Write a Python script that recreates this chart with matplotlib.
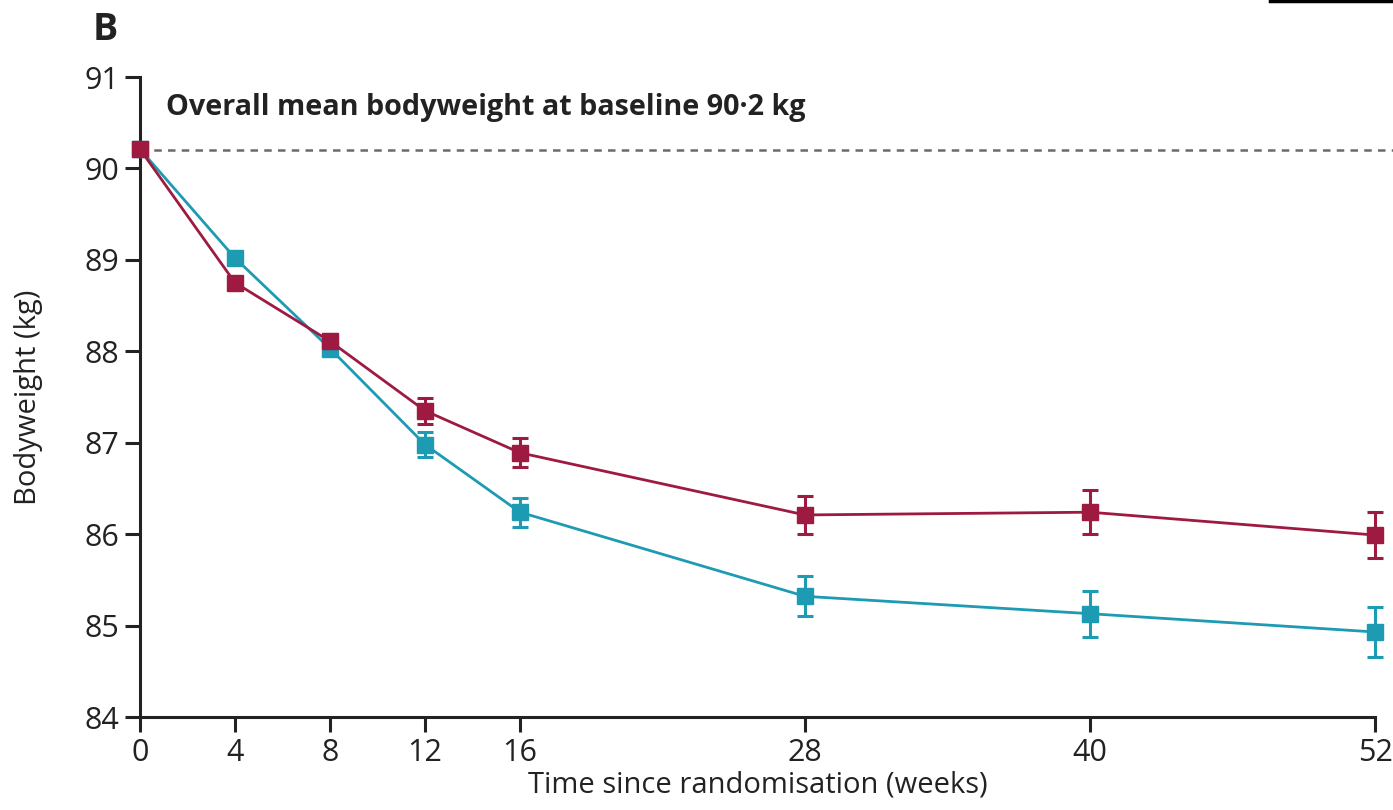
import matplotlib
matplotlib.use("Agg")
import matplotlib.pyplot as plt
from matplotlib.lines import Line2D

weeks = [0, 4, 8, 12, 16, 28, 40, 52]
red_mean = [90.21, 88.75, 88.11, 87.35, 86.89, 86.21, 86.24, 85.99]
red_err = [0.0, 0.0, 0.08, 0.14, 0.16, 0.21, 0.24, 0.25]
teal_mean = [90.21, 89.02, 88.03, 86.98, 86.24, 85.32, 85.13, 84.93]
teal_err = [0.0, 0.0, 0.0, 0.14, 0.16, 0.22, 0.25, 0.27]
baseline = 90.2
y_ticks = [84, 85, 86, 87, 88, 89, 90, 91]

RED = "#9E1A40"
TEAL = "#1C9BB3"
TICKFONT = ["Liberation Sans Narrow", "Open Sans", "DejaVu Sans"]

fig = plt.figure(figsize=(13.93, 8.10), dpi=100)
ax = fig.add_axes([140/1393, 1-717/810, (1375-140)/1393, (717-77)/810])

ax.plot([0, 53.2], [baseline, baseline], linestyle=(0, (3, 2.5)), color="#6b6b6b",
        lw=1.8, clip_on=False, zorder=1)

for mean, err, col in [(teal_mean, teal_err, TEAL), (red_mean, red_err, RED)]:
    ax.errorbar(weeks, mean, yerr=err, color=col, lw=2.0, marker="s", ms=11.5,
                elinewidth=2.2, capsize=6, capthick=2.2, clip_on=False, zorder=3)

ax.set_xlim(0, 52)
ax.set_ylim(84, 91)
ax.set_xticks(weeks)
ax.set_yticks(y_ticks)
for s in ["top", "right"]:
    ax.spines[s].set_visible(False)
for s in ["left", "bottom"]:
    ax.spines[s].set_linewidth(2.2)
    ax.spines[s].set_color("#222222")
ax.tick_params(length=11, width=2.2, color="#222222", labelsize=22, pad=4, labelcolor="#222222")
for lab in ax.get_xticklabels() + ax.get_yticklabels():
    lab.set_family(TICKFONT)

ax.set_xlabel("Time since randomisation (weeks)", fontsize=21, family=TICKFONT,
              color="#222222", labelpad=2)
ax.set_ylabel("Bodyweight (kg)", fontsize=21, family=TICKFONT, color="#222222", labelpad=30)

ax.text(1.1, 90.67, "Overall mean bodyweight at baseline 90·2 kg", fontsize=20.7,
        fontweight="bold", family=["Open Sans", "DejaVu Sans"], color="#222222", va="center")
fig.text(93/1393, 1-30/810, "B", fontsize=27, fontweight="bold",
         family=["Open Sans", "DejaVu Sans"], color="#222222", va="center")

fig.add_artist(Line2D([1270/1393, 1.0], [1-1/810, 1-1/810], color="black", lw=2.5))

fig.savefig("out.png", dpi=100)
